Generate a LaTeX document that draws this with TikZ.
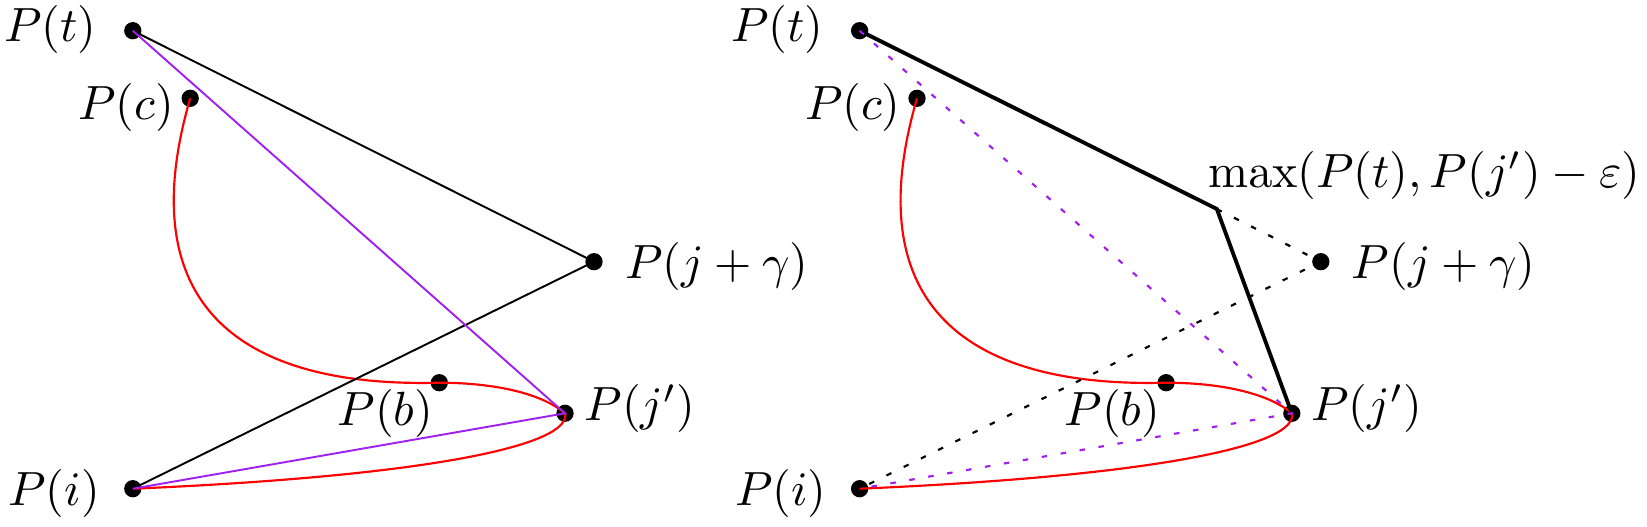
\documentclass[tikz,border=0pt]{standalone}
\definecolor{purp}{RGB}{160,32,240}
\begin{document}
\begin{tikzpicture}[x=0.208333pt,y=-0.208333pt,
  dot/.style={circle,fill=black,inner sep=0pt,minimum size=3.6pt},
  lbl/.style={inner sep=0pt},
  curve/.style={red,line width=0.45pt},
  plain/.style={black,line width=0.4pt},
  pline/.style={purp,line width=0.4pt},
  dotline/.style={black,line width=0.45pt,dash pattern=on 1.15pt off 2.85pt},
  pdot/.style={purp,line width=0.45pt,dash pattern=on 1.15pt off 2.85pt},
  heavy/.style={black,line width=0.8pt}]
\useasboundingbox (0,0) rectangle (1647,526);
% ---------- left panel ----------
\node[dot] (t1) at (132.8,30.7) {};
\node[dot] (c1) at (190.2,98.3) {};
\node[dot] (b1) at (439.3,382.7) {};
\node[dot] (j1) at (565,413.3) {};
\node[dot] (g1) at (594,261.7) {};
\node[dot] (i1) at (132.8,488.7) {};
\node[lbl] (lt1) at (50.5,29.5) {$P(t)$};
\node[lbl] (lc1) at (126,108) {$P(c)$};
\node[lbl] (lb1) at (385.5,413.7) {$P(b)$};
\node[lbl] (li1) at (54,493.3) {$P(i)$};
\node[lbl] (lg1) at (716.8,266) {$P(j+\gamma)$};
\node[lbl] (lj1) at (640,408.5) {$P(j')$};
\draw[curve] (c1.center) .. controls (130,305) and (240,388) .. (b1.center)
  .. controls (490,382.7) and (540,392) .. (j1.center)
  .. controls (572,445) and (430,476) .. (i1.center);
\draw[plain] (t1.center) -- (g1.center) -- (i1.center);
\draw[pline] (t1.center) -- (j1.center) -- (i1.center);
% ---------- right panel ----------
\node[dot] (t2) at (859.6,30.7) {};
\node[dot] (c2) at (917,98.3) {};
\node[dot] (b2) at (1166.1,382.7) {};
\node[dot] (j2) at (1291.8,413.3) {};
\node[dot] (g2) at (1320.8,261.7) {};
\node[dot] (i2) at (859.6,488.7) {};
\coordinate (m) at (1216.8,209);
\node[lbl] (lt2) at (777.3,29.5) {$P(t)$};
\node[lbl] (lc2) at (852.8,108) {$P(c)$};
\node[lbl] (lb2) at (1112.3,413.7) {$P(b)$};
\node[lbl] (li2) at (780.8,493.3) {$P(i)$};
\node[lbl] (lg2) at (1443.6,266) {$P(j+\gamma)$};
\node[lbl] (lj2) at (1366.8,408.5) {$P(j')$};
\node[lbl] (lm) at (1424.4,175.5) {$\max(P(t),P(j')-\varepsilon)$};
\draw[curve] (c2.center) .. controls (856.8,305) and (966.8,388) .. (b2.center)
  .. controls (1216.8,382.7) and (1266.8,392) .. (j2.center)
  .. controls (1298.8,445) and (1156.8,476) .. (i2.center);
\draw[dotline] (m) -- (g2.center) -- (i2.center);
\draw[heavy] (t2.center) -- (m) -- (j2.center);
\draw[pdot] (t2.center) -- (j2.center) -- (i2.center);
\end{tikzpicture}
\end{document}
